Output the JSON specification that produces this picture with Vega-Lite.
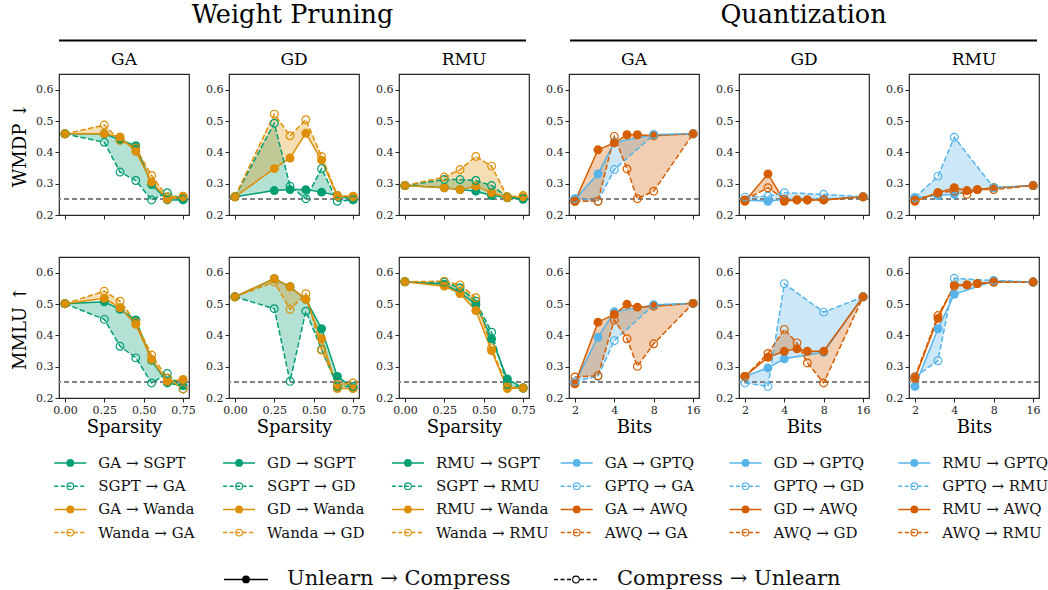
{
"$schema":"https://vega.github.io/schema/vega-lite/v6.json",
"padding":{"left":10,"top":0,"right":0,"bottom":0},
"spacing":0,
"background":"white",
"data":{"values":[
{"f":"P","r":"WMDP","u":"GA","c":"SGPT","x":0,"s":0.459,"d":0.459},
{"f":"P","r":"WMDP","u":"GA","c":"SGPT","x":0.25,"s":0.459,"d":0.432},
{"f":"P","r":"WMDP","u":"GA","c":"SGPT","x":0.35,"s":0.44,"d":0.337},
{"f":"P","r":"WMDP","u":"GA","c":"SGPT","x":0.45,"s":0.421,"d":0.31},
{"f":"P","r":"WMDP","u":"GA","c":"SGPT","x":0.55,"s":0.297,"d":0.248},
{"f":"P","r":"WMDP","u":"GA","c":"SGPT","x":0.65,"s":0.248,"d":0.271},
{"f":"P","r":"WMDP","u":"GA","c":"SGPT","x":0.75,"s":0.248,"d":0.25},
{"f":"P","r":"WMDP","u":"GA","c":"Wanda","x":0,"s":0.459,"d":0.459},
{"f":"P","r":"WMDP","u":"GA","c":"Wanda","x":0.25,"s":0.459,"d":0.487},
{"f":"P","r":"WMDP","u":"GA","c":"Wanda","x":0.35,"s":0.449,"d":0.438},
{"f":"P","r":"WMDP","u":"GA","c":"Wanda","x":0.45,"s":0.403,"d":0.414},
{"f":"P","r":"WMDP","u":"GA","c":"Wanda","x":0.55,"s":0.305,"d":0.326},
{"f":"P","r":"WMDP","u":"GA","c":"Wanda","x":0.65,"s":0.25,"d":0.258},
{"f":"P","r":"WMDP","u":"GA","c":"Wanda","x":0.75,"s":0.258,"d":0.26},
{"f":"P","r":"WMDP","u":"GD","c":"SGPT","x":0,"s":0.258,"d":0.258},
{"f":"P","r":"WMDP","u":"GD","c":"SGPT","x":0.25,"s":0.278,"d":0.493},
{"f":"P","r":"WMDP","u":"GD","c":"SGPT","x":0.35,"s":0.281,"d":0.292},
{"f":"P","r":"WMDP","u":"GD","c":"SGPT","x":0.45,"s":0.281,"d":0.252},
{"f":"P","r":"WMDP","u":"GD","c":"SGPT","x":0.55,"s":0.273,"d":0.348},
{"f":"P","r":"WMDP","u":"GD","c":"SGPT","x":0.65,"s":0.262,"d":0.244},
{"f":"P","r":"WMDP","u":"GD","c":"SGPT","x":0.75,"s":0.25,"d":0.248},
{"f":"P","r":"WMDP","u":"GD","c":"Wanda","x":0,"s":0.258,"d":0.258},
{"f":"P","r":"WMDP","u":"GD","c":"Wanda","x":0.25,"s":0.348,"d":0.522},
{"f":"P","r":"WMDP","u":"GD","c":"Wanda","x":0.35,"s":0.382,"d":0.453},
{"f":"P","r":"WMDP","u":"GD","c":"Wanda","x":0.45,"s":0.461,"d":0.504},
{"f":"P","r":"WMDP","u":"GD","c":"Wanda","x":0.55,"s":0.375,"d":0.387},
{"f":"P","r":"WMDP","u":"GD","c":"Wanda","x":0.65,"s":0.26,"d":0.262},
{"f":"P","r":"WMDP","u":"GD","c":"Wanda","x":0.75,"s":0.26,"d":0.258},
{"f":"P","r":"WMDP","u":"RMU","c":"SGPT","x":0,"s":0.294,"d":0.294},
{"f":"P","r":"WMDP","u":"RMU","c":"SGPT","x":0.25,"s":0.287,"d":0.313},
{"f":"P","r":"WMDP","u":"RMU","c":"SGPT","x":0.35,"s":0.281,"d":0.313},
{"f":"P","r":"WMDP","u":"RMU","c":"SGPT","x":0.45,"s":0.276,"d":0.31},
{"f":"P","r":"WMDP","u":"RMU","c":"SGPT","x":0.55,"s":0.262,"d":0.294},
{"f":"P","r":"WMDP","u":"RMU","c":"SGPT","x":0.65,"s":0.255,"d":0.258},
{"f":"P","r":"WMDP","u":"RMU","c":"SGPT","x":0.75,"s":0.25,"d":0.252},
{"f":"P","r":"WMDP","u":"RMU","c":"Wanda","x":0,"s":0.294,"d":0.294},
{"f":"P","r":"WMDP","u":"RMU","c":"Wanda","x":0.25,"s":0.287,"d":0.321},
{"f":"P","r":"WMDP","u":"RMU","c":"Wanda","x":0.35,"s":0.281,"d":0.345},
{"f":"P","r":"WMDP","u":"RMU","c":"Wanda","x":0.45,"s":0.292,"d":0.387},
{"f":"P","r":"WMDP","u":"RMU","c":"Wanda","x":0.55,"s":0.271,"d":0.356},
{"f":"P","r":"WMDP","u":"RMU","c":"Wanda","x":0.65,"s":0.255,"d":0.258},
{"f":"P","r":"WMDP","u":"RMU","c":"Wanda","x":0.75,"s":0.258,"d":0.262},
{"f":"P","r":"MMLU","u":"GA","c":"SGPT","x":0,"s":0.501,"d":0.501},
{"f":"P","r":"MMLU","u":"GA","c":"SGPT","x":0.25,"s":0.507,"d":0.451},
{"f":"P","r":"MMLU","u":"GA","c":"SGPT","x":0.35,"s":0.483,"d":0.365},
{"f":"P","r":"MMLU","u":"GA","c":"SGPT","x":0.45,"s":0.449,"d":0.328},
{"f":"P","r":"MMLU","u":"GA","c":"SGPT","x":0.55,"s":0.32,"d":0.248},
{"f":"P","r":"MMLU","u":"GA","c":"SGPT","x":0.65,"s":0.248,"d":0.278},
{"f":"P","r":"MMLU","u":"GA","c":"SGPT","x":0.75,"s":0.239,"d":0.229},
{"f":"P","r":"MMLU","u":"GA","c":"Wanda","x":0,"s":0.501,"d":0.501},
{"f":"P","r":"MMLU","u":"GA","c":"Wanda","x":0.25,"s":0.518,"d":0.541},
{"f":"P","r":"MMLU","u":"GA","c":"Wanda","x":0.35,"s":0.488,"d":0.509},
{"f":"P","r":"MMLU","u":"GA","c":"Wanda","x":0.45,"s":0.435,"d":0.442},
{"f":"P","r":"MMLU","u":"GA","c":"Wanda","x":0.55,"s":0.323,"d":0.337},
{"f":"P","r":"MMLU","u":"GA","c":"Wanda","x":0.65,"s":0.253,"d":0.264},
{"f":"P","r":"MMLU","u":"GA","c":"Wanda","x":0.75,"s":0.259,"d":0.229},
{"f":"P","r":"MMLU","u":"GD","c":"SGPT","x":0,"s":0.523,"d":0.523},
{"f":"P","r":"MMLU","u":"GD","c":"SGPT","x":0.25,"s":0.581,"d":0.485},
{"f":"P","r":"MMLU","u":"GD","c":"SGPT","x":0.35,"s":0.555,"d":0.253},
{"f":"P","r":"MMLU","u":"GD","c":"SGPT","x":0.45,"s":0.515,"d":0.477},
{"f":"P","r":"MMLU","u":"GD","c":"SGPT","x":0.55,"s":0.421,"d":0.355},
{"f":"P","r":"MMLU","u":"GD","c":"SGPT","x":0.65,"s":0.269,"d":0.237},
{"f":"P","r":"MMLU","u":"GD","c":"SGPT","x":0.75,"s":0.232,"d":0.237},
{"f":"P","r":"MMLU","u":"GD","c":"Wanda","x":0,"s":0.523,"d":0.523},
{"f":"P","r":"MMLU","u":"GD","c":"Wanda","x":0.25,"s":0.581,"d":0.57},
{"f":"P","r":"MMLU","u":"GD","c":"Wanda","x":0.35,"s":0.555,"d":0.483},
{"f":"P","r":"MMLU","u":"GD","c":"Wanda","x":0.45,"s":0.515,"d":0.533},
{"f":"P","r":"MMLU","u":"GD","c":"Wanda","x":0.55,"s":0.389,"d":0.353},
{"f":"P","r":"MMLU","u":"GD","c":"Wanda","x":0.65,"s":0.23,"d":0.243},
{"f":"P","r":"MMLU","u":"GD","c":"Wanda","x":0.75,"s":0.23,"d":0.248},
{"f":"P","r":"MMLU","u":"RMU","c":"SGPT","x":0,"s":0.571,"d":0.571},
{"f":"P","r":"MMLU","u":"RMU","c":"SGPT","x":0.25,"s":0.563,"d":0.57},
{"f":"P","r":"MMLU","u":"RMU","c":"SGPT","x":0.35,"s":0.536,"d":0.552},
{"f":"P","r":"MMLU","u":"RMU","c":"SGPT","x":0.45,"s":0.499,"d":0.509},
{"f":"P","r":"MMLU","u":"RMU","c":"SGPT","x":0.55,"s":0.389,"d":0.41},
{"f":"P","r":"MMLU","u":"RMU","c":"SGPT","x":0.65,"s":0.261,"d":0.243},
{"f":"P","r":"MMLU","u":"RMU","c":"SGPT","x":0.75,"s":0.232,"d":0.232},
{"f":"P","r":"MMLU","u":"RMU","c":"Wanda","x":0,"s":0.571,"d":0.571},
{"f":"P","r":"MMLU","u":"RMU","c":"Wanda","x":0.25,"s":0.557,"d":0.573},
{"f":"P","r":"MMLU","u":"RMU","c":"Wanda","x":0.35,"s":0.533,"d":0.561},
{"f":"P","r":"MMLU","u":"RMU","c":"Wanda","x":0.45,"s":0.479,"d":0.52},
{"f":"P","r":"MMLU","u":"RMU","c":"Wanda","x":0.55,"s":0.351,"d":0.36},
{"f":"P","r":"MMLU","u":"RMU","c":"Wanda","x":0.65,"s":0.23,"d":0.235},
{"f":"P","r":"MMLU","u":"RMU","c":"Wanda","x":0.75,"s":0.232,"d":0.232},
{"f":"Q","r":"WMDP","u":"GA","c":"GPTQ","x":2,"s":0.25,"d":0.252},
{"f":"Q","r":"WMDP","u":"GA","c":"GPTQ","x":3,"s":0.331,"d":0.244},
{"f":"Q","r":"WMDP","u":"GA","c":"GPTQ","x":4,"s":0.432,"d":0.345},
{"f":"Q","r":"WMDP","u":"GA","c":"GPTQ","x":8,"s":0.456,"d":0.456},
{"f":"Q","r":"WMDP","u":"GA","c":"GPTQ","x":16,"s":0.459,"d":0.459},
{"f":"Q","r":"WMDP","u":"GA","c":"AWQ","x":2,"s":0.244,"d":0.244},
{"f":"Q","r":"WMDP","u":"GA","c":"AWQ","x":3,"s":0.408,"d":0.244},
{"f":"Q","r":"WMDP","u":"GA","c":"AWQ","x":4,"s":0.43,"d":0.451},
{"f":"Q","r":"WMDP","u":"GA","c":"AWQ","x":5,"s":0.456,"d":0.347},
{"f":"Q","r":"WMDP","u":"GA","c":"AWQ","x":6,"s":0.456,"d":0.252},
{"f":"Q","r":"WMDP","u":"GA","c":"AWQ","x":8,"s":0.453,"d":0.276},
{"f":"Q","r":"WMDP","u":"GA","c":"AWQ","x":16,"s":0.459,"d":0.459},
{"f":"Q","r":"WMDP","u":"GD","c":"GPTQ","x":2,"s":0.247,"d":0.257},
{"f":"Q","r":"WMDP","u":"GD","c":"GPTQ","x":3,"s":0.244,"d":0.26},
{"f":"Q","r":"WMDP","u":"GD","c":"GPTQ","x":4,"s":0.25,"d":0.271},
{"f":"Q","r":"WMDP","u":"GD","c":"GPTQ","x":8,"s":0.25,"d":0.266},
{"f":"Q","r":"WMDP","u":"GD","c":"GPTQ","x":16,"s":0.258,"d":0.258},
{"f":"Q","r":"WMDP","u":"GD","c":"AWQ","x":2,"s":0.244,"d":0.248},
{"f":"Q","r":"WMDP","u":"GD","c":"AWQ","x":3,"s":0.331,"d":0.287},
{"f":"Q","r":"WMDP","u":"GD","c":"AWQ","x":4,"s":0.244,"d":0.25},
{"f":"Q","r":"WMDP","u":"GD","c":"AWQ","x":5,"s":0.248,"d":0.248},
{"f":"Q","r":"WMDP","u":"GD","c":"AWQ","x":6,"s":0.248,"d":0.248},
{"f":"Q","r":"WMDP","u":"GD","c":"AWQ","x":8,"s":0.248,"d":0.248},
{"f":"Q","r":"WMDP","u":"GD","c":"AWQ","x":16,"s":0.258,"d":0.258},
{"f":"Q","r":"WMDP","u":"RMU","c":"GPTQ","x":2,"s":0.255,"d":0.255},
{"f":"Q","r":"WMDP","u":"RMU","c":"GPTQ","x":3,"s":0.262,"d":0.324},
{"f":"Q","r":"WMDP","u":"RMU","c":"GPTQ","x":4,"s":0.266,"d":0.448},
{"f":"Q","r":"WMDP","u":"RMU","c":"GPTQ","x":8,"s":0.287,"d":0.287},
{"f":"Q","r":"WMDP","u":"RMU","c":"GPTQ","x":16,"s":0.294,"d":0.294},
{"f":"Q","r":"WMDP","u":"RMU","c":"AWQ","x":2,"s":0.244,"d":0.247},
{"f":"Q","r":"WMDP","u":"RMU","c":"AWQ","x":3,"s":0.271,"d":0.271},
{"f":"Q","r":"WMDP","u":"RMU","c":"AWQ","x":4,"s":0.287,"d":0.276},
{"f":"Q","r":"WMDP","u":"RMU","c":"AWQ","x":5,"s":0.278,"d":0.266},
{"f":"Q","r":"WMDP","u":"RMU","c":"AWQ","x":6,"s":0.281,"d":0.281},
{"f":"Q","r":"WMDP","u":"RMU","c":"AWQ","x":8,"s":0.287,"d":0.281},
{"f":"Q","r":"WMDP","u":"RMU","c":"AWQ","x":16,"s":0.294,"d":0.294},
{"f":"Q","r":"MMLU","u":"GA","c":"GPTQ","x":2,"s":0.248,"d":0.253},
{"f":"Q","r":"MMLU","u":"GA","c":"GPTQ","x":3,"s":0.394,"d":0.269},
{"f":"Q","r":"MMLU","u":"GA","c":"GPTQ","x":4,"s":0.475,"d":0.383},
{"f":"Q","r":"MMLU","u":"GA","c":"GPTQ","x":8,"s":0.497,"d":0.497},
{"f":"Q","r":"MMLU","u":"GA","c":"GPTQ","x":16,"s":0.502,"d":0.502},
{"f":"Q","r":"MMLU","u":"GA","c":"AWQ","x":2,"s":0.245,"d":0.267},
{"f":"Q","r":"MMLU","u":"GA","c":"AWQ","x":3,"s":0.442,"d":0.271},
{"f":"Q","r":"MMLU","u":"GA","c":"AWQ","x":4,"s":0.467,"d":0.449},
{"f":"Q","r":"MMLU","u":"GA","c":"AWQ","x":5,"s":0.499,"d":0.389},
{"f":"Q","r":"MMLU","u":"GA","c":"AWQ","x":6,"s":0.49,"d":0.301},
{"f":"Q","r":"MMLU","u":"GA","c":"AWQ","x":8,"s":0.493,"d":0.373},
{"f":"Q","r":"MMLU","u":"GA","c":"AWQ","x":16,"s":0.502,"d":0.502},
{"f":"Q","r":"MMLU","u":"GD","c":"GPTQ","x":2,"s":0.269,"d":0.248},
{"f":"Q","r":"MMLU","u":"GD","c":"GPTQ","x":3,"s":0.296,"d":0.237},
{"f":"Q","r":"MMLU","u":"GD","c":"GPTQ","x":4,"s":0.325,"d":0.565},
{"f":"Q","r":"MMLU","u":"GD","c":"GPTQ","x":8,"s":0.346,"d":0.474},
{"f":"Q","r":"MMLU","u":"GD","c":"GPTQ","x":16,"s":0.523,"d":0.523},
{"f":"Q","r":"MMLU","u":"GD","c":"AWQ","x":2,"s":0.269,"d":0.269},
{"f":"Q","r":"MMLU","u":"GD","c":"AWQ","x":3,"s":0.33,"d":0.342},
{"f":"Q","r":"MMLU","u":"GD","c":"AWQ","x":4,"s":0.349,"d":0.419},
{"f":"Q","r":"MMLU","u":"GD","c":"AWQ","x":5,"s":0.357,"d":0.376},
{"f":"Q","r":"MMLU","u":"GD","c":"AWQ","x":6,"s":0.349,"d":0.312},
{"f":"Q","r":"MMLU","u":"GD","c":"AWQ","x":8,"s":0.349,"d":0.248},
{"f":"Q","r":"MMLU","u":"GD","c":"AWQ","x":16,"s":0.523,"d":0.523},
{"f":"Q","r":"MMLU","u":"RMU","c":"GPTQ","x":2,"s":0.237,"d":0.267},
{"f":"Q","r":"MMLU","u":"RMU","c":"GPTQ","x":3,"s":0.421,"d":0.319},
{"f":"Q","r":"MMLU","u":"RMU","c":"GPTQ","x":4,"s":0.531,"d":0.582},
{"f":"Q","r":"MMLU","u":"RMU","c":"GPTQ","x":8,"s":0.573,"d":0.575},
{"f":"Q","r":"MMLU","u":"RMU","c":"GPTQ","x":16,"s":0.57,"d":0.57},
{"f":"Q","r":"MMLU","u":"RMU","c":"AWQ","x":2,"s":0.262,"d":0.267},
{"f":"Q","r":"MMLU","u":"RMU","c":"AWQ","x":3,"s":0.454,"d":0.463},
{"f":"Q","r":"MMLU","u":"RMU","c":"AWQ","x":4,"s":0.561,"d":0.557},
{"f":"Q","r":"MMLU","u":"RMU","c":"AWQ","x":5,"s":0.561,"d":0.561},
{"f":"Q","r":"MMLU","u":"RMU","c":"AWQ","x":6,"s":0.565,"d":0.565},
{"f":"Q","r":"MMLU","u":"RMU","c":"AWQ","x":8,"s":0.57,"d":0.57},
{"f":"Q","r":"MMLU","u":"RMU","c":"AWQ","x":16,"s":0.57,"d":0.57}
]},
"vconcat":[
{
 "width":980,"height":50,"view":{"stroke":null},
 "data":{"values":[{"k":0,"t":"Weight Pruning"},{"k":1,"t":"Quantization"}]},
 "encoding":{"x":{"field":"k","type":"quantitative","scale":{"domain":[0,1.9178],"nice":false,"zero":false},"axis":null}},
 "layer":[
  {"mark":{"type":"rule","strokeWidth":2,"color":"#000000","x2Offset":467},"encoding":{"x2":{"field":"k"},"y":{"datum":0.19,"scale":{"domain":[0,1],"nice":false,"zero":false},"axis":null}}},
  {"mark":{"type":"text","fontSize":25.5,"xOffset":233.5,"align":"center","baseline":"alphabetic","color":"#000000"},"encoding":{"y":{"datum":0.54},"text":{"field":"t"}}}
 ]
},
{
 "concat":[
 {"width":130,"height":141,"title":"GA",
  "transform":[{"filter":"datum.f=='P'&&datum.r=='WMDP'&&datum.u=='GA'"}],
  "layer":[
   {"mark":{"type":"area","fillOpacity":0.3},"encoding":{
     "x":{"field":"x","type":"quantitative","scale":{"domain":[-0.0375,0.7875],"nice":false,"zero":false},"axis":{"values":[0,0.25,0.5,0.75],"labels":false},"title":null},
     "y":{"field":"s","type":"quantitative","scale":{"domain":[0.2,0.65],"nice":false,"zero":false},"axis":{"values":[0.2,0.3,0.4,0.5,0.6],"format":".1f"},"title":"WMDP ↓"},
     "y2":{"field":"d"},
     "color":{"field":"c","type":"nominal","scale":{"domain":["SGPT","Wanda","GPTQ","AWQ"],"range":["#029E73","#DE8F05","#56B4E9","#D55E00"]},"legend":null}}},
   {"mark":{"type":"rule","color":"#808080","strokeDash":[5,3],"strokeWidth":1.2},"encoding":{"y":{"datum":0.25}}},
   {"encoding":{"x":{"field":"x","type":"quantitative","title":null},"color":{"field":"c","type":"nominal","legend":null}},
    "layer":[
     {"mark":{"type":"line","strokeWidth":1.5},"encoding":{"y":{"field":"s","type":"quantitative","title":"WMDP ↓"}}},
     {"mark":{"type":"line","strokeWidth":1.5,"strokeDash":[5.5,2.4]},"encoding":{"y":{"field":"d","type":"quantitative","title":"WMDP ↓"}}},
     {"mark":{"type":"point","filled":true,"size":80,"opacity":1},"encoding":{"y":{"field":"s","type":"quantitative","title":"WMDP ↓"}}},
     {"mark":{"type":"point","filled":false,"size":60,"strokeWidth":1.2,"opacity":1},"encoding":{"y":{"field":"d","type":"quantitative","title":"WMDP ↓"}}}
    ]}
  ]},
 {"width":130,"height":141,"title":"GD",
  "transform":[{"filter":"datum.f=='P'&&datum.r=='WMDP'&&datum.u=='GD'"}],
  "layer":[
   {"mark":{"type":"area","fillOpacity":0.3},"encoding":{
     "x":{"field":"x","type":"quantitative","scale":{"domain":[-0.0375,0.7875],"nice":false,"zero":false},"axis":{"values":[0,0.25,0.5,0.75],"labels":false},"title":null},
     "y":{"field":"s","type":"quantitative","scale":{"domain":[0.2,0.65],"nice":false,"zero":false},"axis":{"values":[0.2,0.3,0.4,0.5,0.6],"format":".1f"},"title":null},
     "y2":{"field":"d"},
     "color":{"field":"c","type":"nominal","scale":{"domain":["SGPT","Wanda","GPTQ","AWQ"],"range":["#029E73","#DE8F05","#56B4E9","#D55E00"]},"legend":null}}},
   {"mark":{"type":"rule","color":"#808080","strokeDash":[5,3],"strokeWidth":1.2},"encoding":{"y":{"datum":0.25}}},
   {"encoding":{"x":{"field":"x","type":"quantitative","title":null},"color":{"field":"c","type":"nominal","legend":null}},
    "layer":[
     {"mark":{"type":"line","strokeWidth":1.5},"encoding":{"y":{"field":"s","type":"quantitative","title":null}}},
     {"mark":{"type":"line","strokeWidth":1.5,"strokeDash":[5.5,2.4]},"encoding":{"y":{"field":"d","type":"quantitative","title":null}}},
     {"mark":{"type":"point","filled":true,"size":80,"opacity":1},"encoding":{"y":{"field":"s","type":"quantitative","title":null}}},
     {"mark":{"type":"point","filled":false,"size":60,"strokeWidth":1.2,"opacity":1},"encoding":{"y":{"field":"d","type":"quantitative","title":null}}}
    ]}
  ]},
 {"width":130,"height":141,"title":"RMU",
  "transform":[{"filter":"datum.f=='P'&&datum.r=='WMDP'&&datum.u=='RMU'"}],
  "layer":[
   {"mark":{"type":"area","fillOpacity":0.3},"encoding":{
     "x":{"field":"x","type":"quantitative","scale":{"domain":[-0.0375,0.7875],"nice":false,"zero":false},"axis":{"values":[0,0.25,0.5,0.75],"labels":false},"title":null},
     "y":{"field":"s","type":"quantitative","scale":{"domain":[0.2,0.65],"nice":false,"zero":false},"axis":{"values":[0.2,0.3,0.4,0.5,0.6],"format":".1f"},"title":null},
     "y2":{"field":"d"},
     "color":{"field":"c","type":"nominal","scale":{"domain":["SGPT","Wanda","GPTQ","AWQ"],"range":["#029E73","#DE8F05","#56B4E9","#D55E00"]},"legend":null}}},
   {"mark":{"type":"rule","color":"#808080","strokeDash":[5,3],"strokeWidth":1.2},"encoding":{"y":{"datum":0.25}}},
   {"encoding":{"x":{"field":"x","type":"quantitative","title":null},"color":{"field":"c","type":"nominal","legend":null}},
    "layer":[
     {"mark":{"type":"line","strokeWidth":1.5},"encoding":{"y":{"field":"s","type":"quantitative","title":null}}},
     {"mark":{"type":"line","strokeWidth":1.5,"strokeDash":[5.5,2.4]},"encoding":{"y":{"field":"d","type":"quantitative","title":null}}},
     {"mark":{"type":"point","filled":true,"size":80,"opacity":1},"encoding":{"y":{"field":"s","type":"quantitative","title":null}}},
     {"mark":{"type":"point","filled":false,"size":60,"strokeWidth":1.2,"opacity":1},"encoding":{"y":{"field":"d","type":"quantitative","title":null}}}
    ]}
  ]},
 {"width":130,"height":141,"title":"GA",
  "transform":[{"filter":"datum.f=='Q'&&datum.r=='WMDP'&&datum.u=='GA'"}],
  "layer":[
   {"mark":{"type":"area","fillOpacity":0.3},"encoding":{
     "x":{"field":"x","type":"quantitative","scale":{"type":"log","base":2,"domain":[1.8025,17.752],"nice":false},"axis":{"values":[2,4,8,16],"labels":false},"title":null},
     "y":{"field":"s","type":"quantitative","scale":{"domain":[0.2,0.65],"nice":false,"zero":false},"axis":{"values":[0.2,0.3,0.4,0.5,0.6],"format":".1f"},"title":null},
     "y2":{"field":"d"},
     "color":{"field":"c","type":"nominal","scale":{"domain":["SGPT","Wanda","GPTQ","AWQ"],"range":["#029E73","#DE8F05","#56B4E9","#D55E00"]},"legend":null}}},
   {"mark":{"type":"rule","color":"#808080","strokeDash":[5,3],"strokeWidth":1.2},"encoding":{"y":{"datum":0.25}}},
   {"encoding":{"x":{"field":"x","type":"quantitative","title":null},"color":{"field":"c","type":"nominal","legend":null}},
    "layer":[
     {"mark":{"type":"line","strokeWidth":1.5},"encoding":{"y":{"field":"s","type":"quantitative","title":null}}},
     {"mark":{"type":"line","strokeWidth":1.5,"strokeDash":[5.5,2.4]},"encoding":{"y":{"field":"d","type":"quantitative","title":null}}},
     {"mark":{"type":"point","filled":true,"size":80,"opacity":1},"encoding":{"y":{"field":"s","type":"quantitative","title":null}}},
     {"mark":{"type":"point","filled":false,"size":60,"strokeWidth":1.2,"opacity":1},"encoding":{"y":{"field":"d","type":"quantitative","title":null}}}
    ]}
  ]},
 {"width":130,"height":141,"title":"GD",
  "transform":[{"filter":"datum.f=='Q'&&datum.r=='WMDP'&&datum.u=='GD'"}],
  "layer":[
   {"mark":{"type":"area","fillOpacity":0.3},"encoding":{
     "x":{"field":"x","type":"quantitative","scale":{"type":"log","base":2,"domain":[1.8025,17.752],"nice":false},"axis":{"values":[2,4,8,16],"labels":false},"title":null},
     "y":{"field":"s","type":"quantitative","scale":{"domain":[0.2,0.65],"nice":false,"zero":false},"axis":{"values":[0.2,0.3,0.4,0.5,0.6],"format":".1f"},"title":null},
     "y2":{"field":"d"},
     "color":{"field":"c","type":"nominal","scale":{"domain":["SGPT","Wanda","GPTQ","AWQ"],"range":["#029E73","#DE8F05","#56B4E9","#D55E00"]},"legend":null}}},
   {"mark":{"type":"rule","color":"#808080","strokeDash":[5,3],"strokeWidth":1.2},"encoding":{"y":{"datum":0.25}}},
   {"encoding":{"x":{"field":"x","type":"quantitative","title":null},"color":{"field":"c","type":"nominal","legend":null}},
    "layer":[
     {"mark":{"type":"line","strokeWidth":1.5},"encoding":{"y":{"field":"s","type":"quantitative","title":null}}},
     {"mark":{"type":"line","strokeWidth":1.5,"strokeDash":[5.5,2.4]},"encoding":{"y":{"field":"d","type":"quantitative","title":null}}},
     {"mark":{"type":"point","filled":true,"size":80,"opacity":1},"encoding":{"y":{"field":"s","type":"quantitative","title":null}}},
     {"mark":{"type":"point","filled":false,"size":60,"strokeWidth":1.2,"opacity":1},"encoding":{"y":{"field":"d","type":"quantitative","title":null}}}
    ]}
  ]},
 {"width":130,"height":141,"title":"RMU",
  "transform":[{"filter":"datum.f=='Q'&&datum.r=='WMDP'&&datum.u=='RMU'"}],
  "layer":[
   {"mark":{"type":"area","fillOpacity":0.3},"encoding":{
     "x":{"field":"x","type":"quantitative","scale":{"type":"log","base":2,"domain":[1.8025,17.752],"nice":false},"axis":{"values":[2,4,8,16],"labels":false},"title":null},
     "y":{"field":"s","type":"quantitative","scale":{"domain":[0.2,0.65],"nice":false,"zero":false},"axis":{"values":[0.2,0.3,0.4,0.5,0.6],"format":".1f"},"title":null},
     "y2":{"field":"d"},
     "color":{"field":"c","type":"nominal","scale":{"domain":["SGPT","Wanda","GPTQ","AWQ"],"range":["#029E73","#DE8F05","#56B4E9","#D55E00"]},"legend":null}}},
   {"mark":{"type":"rule","color":"#808080","strokeDash":[5,3],"strokeWidth":1.2},"encoding":{"y":{"datum":0.25}}},
   {"encoding":{"x":{"field":"x","type":"quantitative","title":null},"color":{"field":"c","type":"nominal","legend":null}},
    "layer":[
     {"mark":{"type":"line","strokeWidth":1.5},"encoding":{"y":{"field":"s","type":"quantitative","title":null}}},
     {"mark":{"type":"line","strokeWidth":1.5,"strokeDash":[5.5,2.4]},"encoding":{"y":{"field":"d","type":"quantitative","title":null}}},
     {"mark":{"type":"point","filled":true,"size":80,"opacity":1},"encoding":{"y":{"field":"s","type":"quantitative","title":null}}},
     {"mark":{"type":"point","filled":false,"size":60,"strokeWidth":1.2,"opacity":1},"encoding":{"y":{"field":"d","type":"quantitative","title":null}}}
    ]}
  ]},
 {"width":130,"height":141,
  "transform":[{"filter":"datum.f=='P'&&datum.r=='MMLU'&&datum.u=='GA'"}],
  "layer":[
   {"mark":{"type":"area","fillOpacity":0.3},"encoding":{
     "x":{"field":"x","type":"quantitative","scale":{"domain":[-0.0375,0.7875],"nice":false,"zero":false},"axis":{"values":[0,0.25,0.5,0.75],"format":".2f"},"title":"Sparsity"},
     "y":{"field":"s","type":"quantitative","scale":{"domain":[0.2,0.65],"nice":false,"zero":false},"axis":{"values":[0.2,0.3,0.4,0.5,0.6],"format":".1f"},"title":"MMLU ↑"},
     "y2":{"field":"d"},
     "color":{"field":"c","type":"nominal","scale":{"domain":["SGPT","Wanda","GPTQ","AWQ"],"range":["#029E73","#DE8F05","#56B4E9","#D55E00"]},"legend":null}}},
   {"mark":{"type":"rule","color":"#808080","strokeDash":[5,3],"strokeWidth":1.2},"encoding":{"y":{"datum":0.25}}},
   {"encoding":{"x":{"field":"x","type":"quantitative","title":"Sparsity"},"color":{"field":"c","type":"nominal","legend":null}},
    "layer":[
     {"mark":{"type":"line","strokeWidth":1.5},"encoding":{"y":{"field":"s","type":"quantitative","title":"MMLU ↑"}}},
     {"mark":{"type":"line","strokeWidth":1.5,"strokeDash":[5.5,2.4]},"encoding":{"y":{"field":"d","type":"quantitative","title":"MMLU ↑"}}},
     {"mark":{"type":"point","filled":true,"size":80,"opacity":1},"encoding":{"y":{"field":"s","type":"quantitative","title":"MMLU ↑"}}},
     {"mark":{"type":"point","filled":false,"size":60,"strokeWidth":1.2,"opacity":1},"encoding":{"y":{"field":"d","type":"quantitative","title":"MMLU ↑"}}}
    ]}
  ]},
 {"width":130,"height":141,
  "transform":[{"filter":"datum.f=='P'&&datum.r=='MMLU'&&datum.u=='GD'"}],
  "layer":[
   {"mark":{"type":"area","fillOpacity":0.3},"encoding":{
     "x":{"field":"x","type":"quantitative","scale":{"domain":[-0.0375,0.7875],"nice":false,"zero":false},"axis":{"values":[0,0.25,0.5,0.75],"format":".2f"},"title":"Sparsity"},
     "y":{"field":"s","type":"quantitative","scale":{"domain":[0.2,0.65],"nice":false,"zero":false},"axis":{"values":[0.2,0.3,0.4,0.5,0.6],"format":".1f"},"title":null},
     "y2":{"field":"d"},
     "color":{"field":"c","type":"nominal","scale":{"domain":["SGPT","Wanda","GPTQ","AWQ"],"range":["#029E73","#DE8F05","#56B4E9","#D55E00"]},"legend":null}}},
   {"mark":{"type":"rule","color":"#808080","strokeDash":[5,3],"strokeWidth":1.2},"encoding":{"y":{"datum":0.25}}},
   {"encoding":{"x":{"field":"x","type":"quantitative","title":"Sparsity"},"color":{"field":"c","type":"nominal","legend":null}},
    "layer":[
     {"mark":{"type":"line","strokeWidth":1.5},"encoding":{"y":{"field":"s","type":"quantitative","title":null}}},
     {"mark":{"type":"line","strokeWidth":1.5,"strokeDash":[5.5,2.4]},"encoding":{"y":{"field":"d","type":"quantitative","title":null}}},
     {"mark":{"type":"point","filled":true,"size":80,"opacity":1},"encoding":{"y":{"field":"s","type":"quantitative","title":null}}},
     {"mark":{"type":"point","filled":false,"size":60,"strokeWidth":1.2,"opacity":1},"encoding":{"y":{"field":"d","type":"quantitative","title":null}}}
    ]}
  ]},
 {"width":130,"height":141,
  "transform":[{"filter":"datum.f=='P'&&datum.r=='MMLU'&&datum.u=='RMU'"}],
  "layer":[
   {"mark":{"type":"area","fillOpacity":0.3},"encoding":{
     "x":{"field":"x","type":"quantitative","scale":{"domain":[-0.0375,0.7875],"nice":false,"zero":false},"axis":{"values":[0,0.25,0.5,0.75],"format":".2f"},"title":"Sparsity"},
     "y":{"field":"s","type":"quantitative","scale":{"domain":[0.2,0.65],"nice":false,"zero":false},"axis":{"values":[0.2,0.3,0.4,0.5,0.6],"format":".1f"},"title":null},
     "y2":{"field":"d"},
     "color":{"field":"c","type":"nominal","scale":{"domain":["SGPT","Wanda","GPTQ","AWQ"],"range":["#029E73","#DE8F05","#56B4E9","#D55E00"]},"legend":null}}},
   {"mark":{"type":"rule","color":"#808080","strokeDash":[5,3],"strokeWidth":1.2},"encoding":{"y":{"datum":0.25}}},
   {"encoding":{"x":{"field":"x","type":"quantitative","title":"Sparsity"},"color":{"field":"c","type":"nominal","legend":null}},
    "layer":[
     {"mark":{"type":"line","strokeWidth":1.5},"encoding":{"y":{"field":"s","type":"quantitative","title":null}}},
     {"mark":{"type":"line","strokeWidth":1.5,"strokeDash":[5.5,2.4]},"encoding":{"y":{"field":"d","type":"quantitative","title":null}}},
     {"mark":{"type":"point","filled":true,"size":80,"opacity":1},"encoding":{"y":{"field":"s","type":"quantitative","title":null}}},
     {"mark":{"type":"point","filled":false,"size":60,"strokeWidth":1.2,"opacity":1},"encoding":{"y":{"field":"d","type":"quantitative","title":null}}}
    ]}
  ]},
 {"width":130,"height":141,
  "transform":[{"filter":"datum.f=='Q'&&datum.r=='MMLU'&&datum.u=='GA'"}],
  "layer":[
   {"mark":{"type":"area","fillOpacity":0.3},"encoding":{
     "x":{"field":"x","type":"quantitative","scale":{"type":"log","base":2,"domain":[1.8025,17.752],"nice":false},"axis":{"values":[2,4,8,16],"format":"d"},"title":"Bits"},
     "y":{"field":"s","type":"quantitative","scale":{"domain":[0.2,0.65],"nice":false,"zero":false},"axis":{"values":[0.2,0.3,0.4,0.5,0.6],"format":".1f"},"title":null},
     "y2":{"field":"d"},
     "color":{"field":"c","type":"nominal","scale":{"domain":["SGPT","Wanda","GPTQ","AWQ"],"range":["#029E73","#DE8F05","#56B4E9","#D55E00"]},"legend":null}}},
   {"mark":{"type":"rule","color":"#808080","strokeDash":[5,3],"strokeWidth":1.2},"encoding":{"y":{"datum":0.25}}},
   {"encoding":{"x":{"field":"x","type":"quantitative","title":"Bits"},"color":{"field":"c","type":"nominal","legend":null}},
    "layer":[
     {"mark":{"type":"line","strokeWidth":1.5},"encoding":{"y":{"field":"s","type":"quantitative","title":null}}},
     {"mark":{"type":"line","strokeWidth":1.5,"strokeDash":[5.5,2.4]},"encoding":{"y":{"field":"d","type":"quantitative","title":null}}},
     {"mark":{"type":"point","filled":true,"size":80,"opacity":1},"encoding":{"y":{"field":"s","type":"quantitative","title":null}}},
     {"mark":{"type":"point","filled":false,"size":60,"strokeWidth":1.2,"opacity":1},"encoding":{"y":{"field":"d","type":"quantitative","title":null}}}
    ]}
  ]},
 {"width":130,"height":141,
  "transform":[{"filter":"datum.f=='Q'&&datum.r=='MMLU'&&datum.u=='GD'"}],
  "layer":[
   {"mark":{"type":"area","fillOpacity":0.3},"encoding":{
     "x":{"field":"x","type":"quantitative","scale":{"type":"log","base":2,"domain":[1.8025,17.752],"nice":false},"axis":{"values":[2,4,8,16],"format":"d"},"title":"Bits"},
     "y":{"field":"s","type":"quantitative","scale":{"domain":[0.2,0.65],"nice":false,"zero":false},"axis":{"values":[0.2,0.3,0.4,0.5,0.6],"format":".1f"},"title":null},
     "y2":{"field":"d"},
     "color":{"field":"c","type":"nominal","scale":{"domain":["SGPT","Wanda","GPTQ","AWQ"],"range":["#029E73","#DE8F05","#56B4E9","#D55E00"]},"legend":null}}},
   {"mark":{"type":"rule","color":"#808080","strokeDash":[5,3],"strokeWidth":1.2},"encoding":{"y":{"datum":0.25}}},
   {"encoding":{"x":{"field":"x","type":"quantitative","title":"Bits"},"color":{"field":"c","type":"nominal","legend":null}},
    "layer":[
     {"mark":{"type":"line","strokeWidth":1.5},"encoding":{"y":{"field":"s","type":"quantitative","title":null}}},
     {"mark":{"type":"line","strokeWidth":1.5,"strokeDash":[5.5,2.4]},"encoding":{"y":{"field":"d","type":"quantitative","title":null}}},
     {"mark":{"type":"point","filled":true,"size":80,"opacity":1},"encoding":{"y":{"field":"s","type":"quantitative","title":null}}},
     {"mark":{"type":"point","filled":false,"size":60,"strokeWidth":1.2,"opacity":1},"encoding":{"y":{"field":"d","type":"quantitative","title":null}}}
    ]}
  ]},
 {"width":130,"height":141,
  "transform":[{"filter":"datum.f=='Q'&&datum.r=='MMLU'&&datum.u=='RMU'"}],
  "layer":[
   {"mark":{"type":"area","fillOpacity":0.3},"encoding":{
     "x":{"field":"x","type":"quantitative","scale":{"type":"log","base":2,"domain":[1.8025,17.752],"nice":false},"axis":{"values":[2,4,8,16],"format":"d"},"title":"Bits"},
     "y":{"field":"s","type":"quantitative","scale":{"domain":[0.2,0.65],"nice":false,"zero":false},"axis":{"values":[0.2,0.3,0.4,0.5,0.6],"format":".1f"},"title":null},
     "y2":{"field":"d"},
     "color":{"field":"c","type":"nominal","scale":{"domain":["SGPT","Wanda","GPTQ","AWQ"],"range":["#029E73","#DE8F05","#56B4E9","#D55E00"]},"legend":null}}},
   {"mark":{"type":"rule","color":"#808080","strokeDash":[5,3],"strokeWidth":1.2},"encoding":{"y":{"datum":0.25}}},
   {"encoding":{"x":{"field":"x","type":"quantitative","title":"Bits"},"color":{"field":"c","type":"nominal","legend":null}},
    "layer":[
     {"mark":{"type":"line","strokeWidth":1.5},"encoding":{"y":{"field":"s","type":"quantitative","title":null}}},
     {"mark":{"type":"line","strokeWidth":1.5,"strokeDash":[5.5,2.4]},"encoding":{"y":{"field":"d","type":"quantitative","title":null}}},
     {"mark":{"type":"point","filled":true,"size":80,"opacity":1},"encoding":{"y":{"field":"s","type":"quantitative","title":null}}},
     {"mark":{"type":"point","filled":false,"size":60,"strokeWidth":1.2,"opacity":1},"encoding":{"y":{"field":"d","type":"quantitative","title":null}}}
    ]}
  ]}
 ],
 "columns":6,
 "spacing":{"row":42,"column":40},
 "bounds":"flush"
},
{
 "width":980,"height":110,"view":{"stroke":null},
 "data":{"values":[
  {"k":0,"i":0,"t":"GA → SGPT","c":"SGPT","m":"s"},{"k":0,"i":1,"t":"SGPT → GA","c":"SGPT","m":"d"},{"k":0,"i":2,"t":"GA → Wanda","c":"Wanda","m":"s"},{"k":0,"i":3,"t":"Wanda → GA","c":"Wanda","m":"d"},
  {"k":1,"i":0,"t":"GD → SGPT","c":"SGPT","m":"s"},{"k":1,"i":1,"t":"SGPT → GD","c":"SGPT","m":"d"},{"k":1,"i":2,"t":"GD → Wanda","c":"Wanda","m":"s"},{"k":1,"i":3,"t":"Wanda → GD","c":"Wanda","m":"d"},
  {"k":2,"i":0,"t":"RMU → SGPT","c":"SGPT","m":"s"},{"k":2,"i":1,"t":"SGPT → RMU","c":"SGPT","m":"d"},{"k":2,"i":2,"t":"RMU → Wanda","c":"Wanda","m":"s"},{"k":2,"i":3,"t":"Wanda → RMU","c":"Wanda","m":"d"},
  {"k":3,"i":0,"t":"GA → GPTQ","c":"GPTQ","m":"s"},{"k":3,"i":1,"t":"GPTQ → GA","c":"GPTQ","m":"d"},{"k":3,"i":2,"t":"GA → AWQ","c":"AWQ","m":"s"},{"k":3,"i":3,"t":"AWQ → GA","c":"AWQ","m":"d"},
  {"k":4,"i":0,"t":"GD → GPTQ","c":"GPTQ","m":"s"},{"k":4,"i":1,"t":"GPTQ → GD","c":"GPTQ","m":"d"},{"k":4,"i":2,"t":"GD → AWQ","c":"AWQ","m":"s"},{"k":4,"i":3,"t":"AWQ → GD","c":"AWQ","m":"d"},
  {"k":5,"i":0,"t":"RMU → GPTQ","c":"GPTQ","m":"s"},{"k":5,"i":1,"t":"GPTQ → RMU","c":"GPTQ","m":"d"},{"k":5,"i":2,"t":"RMU → AWQ","c":"AWQ","m":"s"},{"k":5,"i":3,"t":"AWQ → RMU","c":"AWQ","m":"d"}
 ]},
 "encoding":{
  "x":{"field":"k","type":"quantitative","scale":{"domain":[0.0278,5.8335],"nice":false,"zero":false},"axis":null},
  "y":{"field":"i","type":"quantitative","scale":{"domain":[-1.12,3.621],"nice":false,"zero":false,"reverse":true},"axis":null},
  "color":{"field":"c","type":"nominal","scale":{"domain":["SGPT","Wanda","GPTQ","AWQ"],"range":["#029E73","#DE8F05","#56B4E9","#D55E00"]},"legend":null}
 },
 "layer":[
  {"mark":{"type":"rule","strokeWidth":1.5,"x2Offset":32},"encoding":{"x2":{"field":"k"},"strokeDash":{"field":"m","type":"nominal","scale":{"domain":["s","d"],"range":[[1,0],[4,2.5]]},"legend":null}}},
  {"transform":[{"filter":"datum.m=='s'"}],"mark":{"type":"point","filled":true,"size":60,"xOffset":16,"opacity":1}},
  {"transform":[{"filter":"datum.m=='d'"}],"mark":{"type":"point","filled":false,"size":45,"xOffset":16,"strokeWidth":1.1,"opacity":1}},
  {"mark":{"type":"text","xOffset":44,"align":"left","baseline":"middle","fontSize":15},"encoding":{"text":{"field":"t"},"color":{"value":"#111111"}}}
 ]
},
{
 "width":980,"height":45,"view":{"stroke":null},
 "data":{"values":[{"k":0,"t":"Unlearn → Compress","m":"s"},{"k":1,"t":"Compress → Unlearn","m":"d"}]},
 "encoding":{
  "x":{"field":"k","type":"quantitative","scale":{"domain":[-0.5,2.4697],"nice":false,"zero":false},"axis":null},
  "y":{"datum":0.278,"scale":{"domain":[0,1],"nice":false,"zero":false},"axis":null}
 },
 "layer":[
  {"mark":{"type":"rule","strokeWidth":1.5,"x2Offset":44,"color":"#000000"},"encoding":{"x2":{"field":"k"},"strokeDash":{"field":"m","type":"nominal","scale":{"domain":["s","d"],"range":[[1,0],[3,2]]},"legend":null}}},
  {"transform":[{"filter":"datum.m=='s'"}],"mark":{"type":"point","filled":true,"size":60,"xOffset":22,"opacity":1,"color":"#000000"}},
  {"transform":[{"filter":"datum.m=='d'"}],"mark":{"type":"point","filled":false,"size":45,"xOffset":22,"strokeWidth":1.1,"opacity":1,"color":"#000000","fill":"white"}},
  {"mark":{"type":"text","xOffset":63,"align":"left","baseline":"middle","fontSize":21,"color":"#111111"},"encoding":{"text":{"field":"t"}}}
 ]
}
],
"config":{
 "font":"DejaVu Serif",
 "view":{"stroke":"#262626","strokeWidth":1.2},
 "axis":{"grid":false,"domain":false,"tickColor":"#262626","tickSize":4,"tickWidth":1,"labelFontSize":11,"labelColor":"#262626","labelFont":"DejaVu Serif","titleFont":"DejaVu Serif","titleFontSize":18,"titleFontWeight":"normal","titleColor":"#000000","labelPadding":2,"labelOverlap":false},
 "axisX":{"titlePadding":3},
 "axisY":{"titlePadding":6,"tickCount":5},
 "title":{"fontSize":17,"fontWeight":"normal","font":"DejaVu Serif","offset":5,"color":"#000000"}
}
}
